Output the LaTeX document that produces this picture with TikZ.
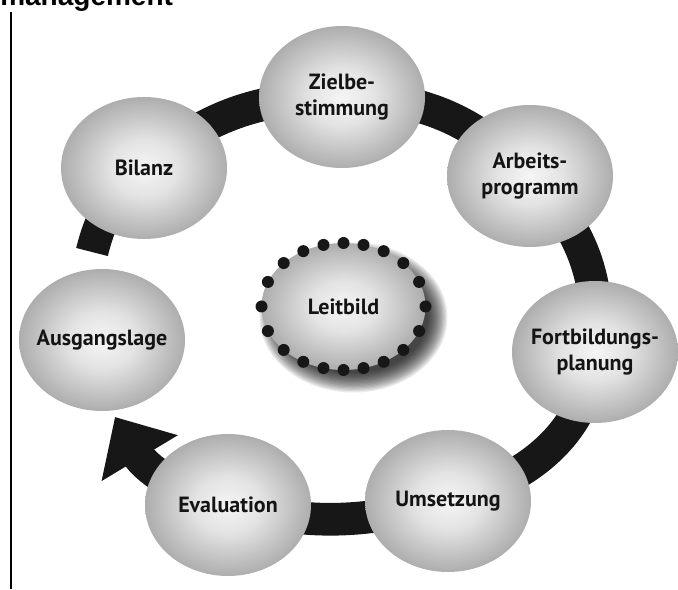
\documentclass[tikz,border=0pt]{standalone}
\usepackage{fontspec}
\setmainfont{Liberation Sans}
\newfontfamily\lblfont{PT Sans}
\usetikzlibrary{arrows.meta,shapes.geometric,calc}
\pgfdeclarelayer{back}
\pgfsetlayers{back,main}
\definecolor{ballhi}{gray}{0.96}
\definecolor{ballmid}{gray}{0.89}
\definecolor{balllo}{gray}{0.68}
\definecolor{ringcol}{gray}{0.09}
\pgfdeclareradialshading{ballshade}{\pgfpoint{0bp}{0bp}}{%
  color(0bp)=(ballhi); color(10bp)=(ballmid); color(25bp)=(balllo); color(50bp)=(balllo)}
\tikzset{
  ball/.style={shape=ellipse, minimum width=124.5pt, minimum height=106.5pt,
    inner sep=0pt, outer sep=0pt, shading=ballshade},
  lbl/.style={font=\lblfont\bfseries\fontsize{16.5}{19}\selectfont, text=black!92,
    align=center, inner sep=0pt},
  ring/.style={line width=24.5pt, ringcol, line cap=butt},
}
\begin{document}
\begin{tikzpicture}[x=0.75pt,y=0.75pt]
\useasboundingbox (0,0) rectangle (678,589);

% heading and margin rule
\node[anchor=base west, inner sep=0pt, font=\bfseries\fontsize{21}{24}\selectfont] (title) at (0,583) {management};
\draw[line width=1.1pt] (11,577) -- (11,0);

% cycle stations
\node[ball, label={[lbl]center:{Zielbe-\\stimmung}}] (ziel) at (342,492) {};
\node[ball, label={[lbl]center:{Arbeits-\\programm}}] (arb) at (530,413) {};
\node[ball, label={[lbl]center:{Fortbildungs-\\planung}}] (fort) at (595,237) {};
\node[ball, label={[lbl]center:Umsetzung}] (ums) at (448,88) {};
\node[ball, label={[lbl]center:Evaluation}] (eval) at (228,84) {};
\node[ball, label={[lbl]center:Ausgangslage}] (aus) at (102,249) {};
\node[ball, label={[lbl]center:Bilanz}] (bil) at (144,421) {};

% centre: mission statement with dotted rim
\node[shape=ellipse, minimum width=123pt, minimum height=95.25pt, inner sep=0pt,
  outer sep=0pt, shading=ballshade, label={[lbl]center:Leitbild}] (leit) at (343.5,282.5) {};
\foreach \a in {0,18,...,342}
  \fill[ringcol] (leit.\a) circle (6);

\coordinate (stub) at (92,337);
\coordinate (tip) at (115,172);

\begin{pgfonlayer}{back}
  % soft shadow of the centre ellipse
  \foreach \i in {0,...,15}
    \fill[black, opacity=0.08] ($(leit.center)+(10,-11)$) ellipse ({94-\i*1.3} and {75-\i*1.3});
  % the cycle band
  \draw[ring, -{Triangle[length=36pt,width=64.5pt]}]
    (stub) to[out=76,in=220] (bil.center)
    to[out=40,in=180] (ziel.center)
    to[out=0,in=135] (arb.center)
    to[out=-45,in=85] (fort.center)
    to[out=-95,in=15] (ums.center)
    to[out=195,in=-14] (eval.center)
    to[out=166,in=-59] (tip);
\end{pgfonlayer}
\end{tikzpicture}
\end{document}
